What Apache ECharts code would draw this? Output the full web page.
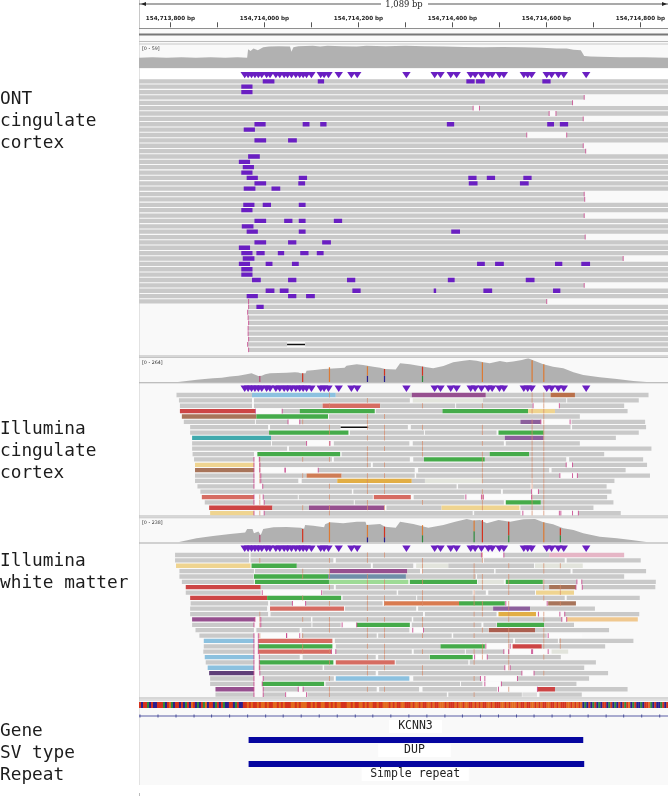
<!DOCTYPE html>
<html><head><meta charset="utf-8">
<style>html,body{margin:0;padding:0;background:#fff}#c{width:668px;height:796px}</style>
<script src="https://cdn.jsdelivr.net/npm/echarts@6/dist/echarts.min.js"></script>
</head><body><div id="c"></div>
<script>
// Positions are bp after 154,713,000.
const CHROM_BASE = 154713000;
const VIEW_START = 733, VIEW_END = 1819;
const RULER_TICKS = [800,900,1000,1100,1200,1300,1400,1500,1600,1700,1800];
const RULER_LABELS = [800,1000,1200,1400,1600,1800];

const ontCoverage = [[733,27],[760,28],[790,27],[820,28],[850,27],[880,28],[910,27],[935,28],[955,27],[957,48],[962,44],[968,50],[977,46],[988,53],[1000,55],[1020,56],[1043,55],[1046,42],[1050,53],[1060,56],[1090,57],[1105,55],[1120,57],[1150,56],[1180,55],[1200,57],[1240,56],[1280,57],[1320,56],[1360,55],[1400,54],[1440,53],[1480,54],[1520,53],[1560,52],[1590,50],[1611,50],[1625,47],[1640,46],[1647,31],[1660,30],[1679,29],[1720,28],[1770,28],[1819,27]];
const illOneCoverage = [[813,0],[852,26],[868,33],[885,41],[903,48],[920,60],[937,71],[954,86],[964,97],[966,78],[978,67],[985,70],[992,86],[1002,97],[1019,100],[1036,104],[1053,108],[1060,106],[1065,97],[1075,98],[1077,126],[1094,134],[1111,145],[1122,147],[1124,164],[1139,153],[1155,158],[1159,182],[1180,197],[1193,190],[1214,171],[1228,160],[1238,145],[1260,138],[1269,208],[1289,197],[1310,179],[1324,164],[1337,153],[1358,179],[1378,219],[1399,238],[1412,246],[1426,238],[1440,219],[1453,208],[1474,234],[1488,219],[1501,227],[1519,246],[1532,264],[1542,242],[1563,197],[1583,171],[1604,153],[1625,108],[1645,78],[1679,52],[1714,33],[1748,11],[1775,0],[1819,0]];
const illTwoCoverage = [[813,0],[851,40],[885,63],[920,83],[951,96],[955,132],[966,132],[969,89],[978,106],[983,73],[988,132],[1009,149],[1036,152],[1065,145],[1067,132],[1072,134],[1074,172],[1091,165],[1113,149],[1115,178],[1125,198],[1152,188],[1180,205],[1198,205],[1200,172],[1228,182],[1238,155],[1260,145],[1269,205],[1296,182],[1327,145],[1358,172],[1382,205],[1406,231],[1419,215],[1433,221],[1447,188],[1471,221],[1495,205],[1522,228],[1546,231],[1563,198],[1583,178],[1604,139],[1625,122],[1645,89],[1679,56],[1714,40],[1748,20],[1778,0],[1819,0]];

// [position, from depth, to depth, base]
const illOneSnv = [[981,0,67,'M'],[1069,0,97,'T'],[1124,0,164,'O'],[1202,0,70,'C'],[1202,70,175,'O'],[1237,0,70,'C'],[1237,70,145,'T'],[1315,0,70,'A'],[1315,70,171,'T'],[1438,0,219,'O'],[1540,0,242,'O'],[1564,0,197,'O']];
const illTwoSnv = [[981,0,73,'M'],[1069,0,132,'T'],[1124,0,198,'O'],[1202,0,50,'C'],[1202,50,172,'O'],[1237,0,50,'C'],[1237,50,155,'T'],[1315,0,70,'A'],[1315,70,170,'O'],[1421,0,110,'A'],[1421,110,215,'O'],[1438,0,221,'T'],[1492,0,70,'A'],[1492,70,205,'T'],[1564,0,198,'O'],[1598,0,70,'A'],[1598,70,139,'T']];

const variantSites = [950,957,964,971,978,985,995,1002,1014,1022,1031,1038,1046,1055,1063,1070,1077,1087,1106,1113,1122,1143,1169,1181,1282,1340,1352,1373,1385,1414,1423,1436,1450,1458,1473,1482,1523,1531,1539,1570,1580,1594,1605,1651];

const ontStarts = [733,733,733,733,733,733,733,733,733,733,733,733,733,733,733,733,733,733,733,733,733,733,733,733,733,733,733,733,733,733,733,733,733,733,733,733,733,733,733,733,733,733,958,956,957,958,957,957,958,956,958];
const ontEnds = [1819,1819,1819,1647,1623,1819,1819,1645,1819,1819,1819,1819,1645,1650,1819,1819,1819,1819,1819,1819,1819,1647,1648,1819,1819,1647,1819,1819,1819,1649,1819,1819,1819,1727,1819,1819,1819,1819,1647,1819,1819,1570,1819,1819,1819,1819,1819,1819,1819,1819,1819];
const ontGaps = [[5,1419,1432],[6,1575,1589],[10,1529,1611]];
const ontDeletions = [[49,1037,1074]];
// [row, start, end]
const ontInserts = [[0,987,1011],[0,1100,1113],[0,1405,1422],[0,1425,1443],[0,1561,1578],[1,943,966],[2,943,966],[8,970,993],[8,1069,1083],[8,1105,1118],[8,1365,1380],[8,1571,1585],[8,1597,1614],[9,948,971],[11,970,994],[11,1039,1057],[14,957,981],[15,938,961],[16,946,969],[17,943,966],[18,954,977],[18,1061,1078],[18,1409,1426],[18,1447,1464],[18,1522,1539],[19,970,994],[19,1060,1074],[19,1410,1428],[19,1515,1533],[20,948,972],[20,1005,1023],[23,947,970],[23,987,1004],[23,1061,1075],[24,943,966],[26,970,994],[26,1031,1048],[26,1061,1075],[26,1133,1150],[27,944,968],[28,954,977],[28,1061,1075],[28,1374,1392],[30,970,994],[30,1039,1056],[30,1109,1127],[31,938,961],[32,943,966],[32,974,991],[32,1018,1031],[32,1064,1081],[32,1098,1112],[33,946,970],[34,938,961],[34,993,1007],[34,1047,1061],[34,1427,1443],[34,1464,1482],[34,1587,1602],[34,1641,1659],[35,943,966],[36,943,966],[37,965,983],[37,1039,1056],[37,1160,1177],[37,1367,1381],[37,1527,1545],[39,993,1011],[39,1022,1040],[39,1171,1188],[39,1338,1343],[39,1440,1458],[39,1583,1598],[40,954,977],[40,1039,1056],[40,1076,1094],[42,974,989]];

const illOneRows = [
[[810,965,'g'],[965,1137,'lb'],[1137,1293,'g'],[1293,1445,'pu'],[1445,1578,'g'],[1578,1628,'ob'],[1628,1779,'g']],
[[815,965,'g'],[969,1289,'g'],[1295,1439,'pl'],[1439,1610,'g'],[1612,1759,'g']],
[[817,965,'g'],[969,1110,'g'],[1110,1228,'sa'],[1228,1382,'g'],[1384,1541,'g'],[1542,1596,'w'],[1597,1729,'g']],
[[817,972,'re'],[972,1027,'w'],[1027,1063,'g'],[1063,1217,'gr'],[1219,1356,'g'],[1356,1532,'gr'],[1532,1587,'py'],[1587,1736,'g']],
[[821,974,'br'],[974,1121,'gr'],[1123,1638,'g']],
[[825,971,'g'],[973,1039,'g'],[1039,1063,'w'],[1063,1516,'g'],[1516,1558,'la'],[1558,1618,'w'],[1621,1772,'g']],
[[838,998,'g'],[1002,1147,'g'],[1147,1204,'k'],[1204,1285,'g'],[1291,1619,'g'],[1622,1774,'g']],
[[838,1000,'g'],[1000,1163,'gr'],[1166,1318,'g'],[1320,1467,'g'],[1471,1564,'gr'],[1564,1759,'g']],
[[842,1004,'te'],[1004,1484,'g'],[1484,1564,'la'],[1564,1712,'g']],
[[842,1004,'g'],[1006,1077,'g'],[1077,1125,'w'],[1133,1288,'g'],[1295,1482,'g'],[1486,1638,'g']],
[[842,1037,'g'],[1041,1785,'g']],
[[843,969,'g'],[976,1146,'gr'],[1149,1453,'g'],[1453,1534,'gr'],[1534,1688,'g']],
[[846,969,'g'],[980,1129,'g'],[1133,1289,'g'],[1296,1318,'g'],[1318,1443,'gr'],[1443,1610,'g'],[1616,1768,'g']],
[[848,969,'py'],[981,1209,'g'],[1213,1610,'g'],[1623,1776,'g']],
[[848,969,'br'],[981,1033,'w'],[1033,1101,'w'],[1101,1299,'g'],[1306,1575,'g'],[1580,1732,'g']],
[[848,969,'g'],[983,1077,'g'],[1077,1149,'sb'],[1149,1299,'g'],[1302,1597,'g'],[1597,1623,'w'],[1633,1782,'g']],
[[848,969,'g'],[983,1060,'g'],[1067,1140,'g'],[1140,1293,'go'],[1293,1320,'g'],[1320,1438,'pl'],[1438,1539,'g'],[1541,1709,'g']],
[[853,969,'g'],[987,1385,'g'],[1388,1537,'g'],[1542,1693,'g']],
[[859,1170,'g'],[1173,1476,'g'],[1480,1539,'g'],[1553,1703,'g']],
[[862,969,'sa'],[988,1059,'g'],[1061,1213,'g'],[1215,1291,'sa'],[1297,1401,'g'],[1404,1436,'w'],[1440,1539,'w'],[1541,1694,'g']],
[[868,969,'g'],[990,1174,'g'],[1176,1482,'g'],[1486,1558,'gr'],[1558,1707,'g']],
[[877,1007,'re'],[1007,1082,'g'],[1082,1236,'pu'],[1241,1354,'g'],[1354,1514,'py'],[1516,1666,'g']],
[[879,969,'py'],[990,1418,'g'],[1421,1516,'g'],[1521,1596,'w'],[1599,1623,'w'],[1635,1722,'g']]
];

const illTwoRows = [
[[807,959,'g'],[962,1436,'g'],[1436,1482,'w'],[1482,1575,'g'],[1575,1729,'pk']],
[[807,959,'g'],[962,1132,'g'],[1137,1438,'g'],[1441,1607,'g'],[1611,1763,'g']],
[[809,962,'py'],[964,1057,'gr'],[1057,1209,'g'],[1213,1296,'g'],[1302,1368,'pl'],[1368,1544,'g'],[1546,1644,'pl']],
[[816,969,'g'],[971,1125,'g'],[1125,1284,'pu'],[1284,1310,'g'],[1315,1462,'g'],[1465,1619,'g'],[1623,1774,'g']],
[[816,968,'g'],[969,1121,'gr'],[1121,1281,'st'],[1281,1425,'g'],[1427,1729,'g']],
[[821,969,'g'],[971,1123,'gr'],[1123,1286,'lg'],[1289,1427,'gr'],[1429,1482,'pl'],[1486,1562,'gr'],[1563,1632,'g'],[1642,1794,'g']],
[[829,983,'re'],[983,1133,'g'],[1137,1575,'g'],[1575,1630,'br'],[1643,1793,'g']],
[[829,983,'g'],[986,1108,'w'],[1110,1262,'g'],[1265,1418,'g'],[1423,1445,'g'],[1450,1546,'g'],[1548,1626,'py']],
[[838,996,'re'],[996,1148,'gr'],[1151,1302,'g'],[1304,1607,'g'],[1611,1761,'g']],
[[839,998,'g'],[1002,1048,'g'],[1048,1075,'w'],[1075,1233,'g'],[1236,1390,'or'],[1390,1484,'gr'],[1486,1571,'w'],[1573,1630,'br']],
[[838,996,'g'],[1002,1154,'sa'],[1156,1302,'g'],[1306,1460,'g'],[1460,1536,'la'],[1536,1669,'g']],
[[838,998,'g'],[1003,1316,'g'],[1320,1467,'g'],[1471,1548,'go'],[1553,1597,'w'],[1607,1760,'g']],
[[842,971,'pu'],[983,1086,'g'],[1089,1293,'g'],[1296,1601,'g'],[1611,1757,'po']],
[[842,969,'g'],[983,1087,'g'],[1089,1147,'g'],[1150,1180,'w'],[1180,1289,'gr'],[1293,1436,'g'],[1440,1467,'g'],[1468,1565,'gr'],[1565,1626,'g']],
[[849,969,'g'],[974,1063,'g'],[1067,1288,'g'],[1295,1317,'w'],[1317,1450,'g'],[1451,1546,'rb'],[1546,1698,'g']],
[[857,969,'g'],[978,1036,'w'],[1036,1063,'w'],[1067,1221,'g'],[1224,1375,'g'],[1378,1570,'g'],[1573,1642,'w']],
[[866,969,'lb'],[978,1130,'sa'],[1135,1501,'g'],[1505,1593,'g'],[1595,1748,'g']],
[[866,969,'g'],[978,1130,'gr'],[1137,1352,'g'],[1352,1443,'gr'],[1445,1495,'w'],[1500,1560,'re'],[1560,1690,'g']],
[[865,969,'g'],[978,1128,'sa'],[1137,1293,'g'],[1297,1402,'g'],[1404,1482,'g'],[1492,1539,'w'],[1541,1573,'w'],[1580,1614,'pl']],
[[868,969,'lb'],[980,1063,'g'],[1069,1219,'g'],[1224,1329,'g'],[1330,1418,'gr'],[1422,1448,'w'],[1448,1599,'g']],
[[870,969,'g'],[980,1132,'gr'],[1137,1258,'sa'],[1260,1409,'g'],[1412,1671,'g']],
[[874,969,'lb'],[980,1110,'g'],[1113,1484,'g'],[1495,1647,'g']],
[[877,969,'dp'],[981,1219,'g'],[1224,1519,'g'],[1519,1544,'w'],[1544,1696,'g']],
[[879,969,'g'],[988,1133,'g'],[1137,1288,'lb'],[1296,1434,'g'],[1443,1510,'w'],[1510,1657,'g']],
[[879,969,'g'],[986,1113,'gr'],[1116,1392,'g'],[1394,1438,'g'],[1443,1477,'w'],[1477,1631,'g']],
[[890,969,'pu'],[988,1060,'g'],[1070,1221,'g'],[1226,1308,'g'],[1315,1468,'g'],[1471,1551,'w'],[1551,1587,'re'],[1587,1736,'g']],
[[890,969,'g'],[988,1033,'g'],[1034,1077,'w'],[1079,1365,'g'],[1368,1519,'g'],[1520,1550,'lc'],[1555,1642,'g']]
];

// Mismatch position -> rows it is seen on
const illOneMismatch = [[981,[12,13,14,15,16,19,20,22]],[1069,[5,12,15,21]],[1124,[0,2,6,7,9,12,17,19,21,22]],[1202,[1,4,5,6,8,10,11,12,13,15,16,17,18,20,21]],[1237,[4,6,7,8,10,13,15,17,18,21]],[1315,[2,6,9,10,11,20]],[1438,[2,6,7,9,11,12,13,14,15,16,18,19,20,21]],[1540,[0,1,3,5,6,7,8,9,10,11,12,13,14,15,16,17,19,20,21,22]],[1564,[0,1,2,3,4,5,6,7,8,9,10,11,12,13,14,15,16,17,18,19,20,21,22]]];
const illTwoMismatch = [[981,[1,11,12,13,15,21]],[1069,[3,4,8,12,15,17,18]],[1124,[1,3,4,6,9,12,13,14,18,20,23,25,26]],[1202,[0,1,4,5,6,8,9,10,12,14,15,17,19,21,22,25]],[1237,[0,5,6,8,9,12,14,15,17,18,19,21,25]],[1315,[1,2,3,5,7,8,9,12,13,15,18,21,22]],[1421,[2,3,4,7,8,9,11,13,15,18,20,23,26]],[1438,[0,1,4,5,6,9,10,11,14,17,18,19]],[1492,[2,4,5,6,7,9,10,11,12,14,15,16,17,18,19,20,21,25]],[1564,[2,3,5,6,8,11,12,14,15,16,17,19,22]],[1598,[2,6,7,9,16,17]]];

const refBases = 'TCTTACTCCTTTACTGACTTCTCATCGTCACTAGCTTCATCTACCTTCATCCTT'+
 'GTGTTGTGGTGTTGGTGTGTTTGGTGTGGGTTGTGTTGGTTGTGTGGTTTGGTGTTGGTGTGGTTGTTGGGTGTGTTGGTTTGTGGTGTTGGTGTTGGGTGTTTGTGGTGGTTGTGTGTTGGTGTTTGGTGTGGGTGTTGTTGGTGTGTTGGTTGTGTTTGGTGTG'+
 'TGCACTCATCACTTCATCACTCTATGCATCCACTTGACTCCATCTAGC';
const BASE_SPAN = 4.1;

const geneTicks = [735,772,809,846,882,919,956,993,1029,1066,1103,1140,1177,1213,1250,1287,1324,1361,1397,1434,1471,1508,1544,1581,1618,1655,1692,1728,1765,1802];
const annTracks = ['Gene','SV type','Repeat'];
const annFeatures = [['SV type',958,1645],['Repeat',958,1647]];
const annLabels = [['KCNN3','Gene',1246,1355],['DUP','SV type',1224,1373],['Simple repeat','Repeat',1190,1410]];

const READ_COLORS = {g:'#c9c9c9',lb:'#8cc1df',pu:'#96508f',ob:'#b9704a',pl:'#e2e4dc',sa:'#d66c62',w:'#fbfbfb',re:'#cd4545',gr:'#45ab4a',py:'#efd490',br:'#a8745a',la:'#8c5f9c',k:'#fafafa',te:'#40a9ad',go:'#e2ae45',sb:'#cf7c55',st:'#6f8ea8',lg:'#9edb96',pk:'#e6b6c6',or:'#d97b50',rb:'#ab5f50',po:'#f0c88f',dp:'#5f3f78',lc:'#dcdcdc'};
const BASE_COLORS = {A:'#2f8a3c',C:'#2a1f8e',G:'#e26a1e',T:'#d4321e',O:'#dc7a34',M:'#b84a78'};
const PURPLE = '#6a1fc2', CAP = '#c8448c', COV = '#b1b1b1', NAVY = '#0606a0';

// ---- layout
const ROW = 5.37;
const LEFT = 139;
function readGrid(row0Y, rows){ return {left:LEFT,right:0,top:row0Y-2.5*ROW,height:(rows+2)*ROW}; }
const grids = [
  {left:LEFT,right:0,top:8,height:19.3},            // 0 ruler
  {left:LEFT,right:0,top:45,height:23.3},           // 1 ONT coverage
  readGrid(81.3,51),                                // 2 ONT reads
  {left:LEFT,right:0,top:358.3,height:23.7},        // 3 Ill cov
  readGrid(395,23),                                 // 4
  {left:LEFT,right:0,top:518.3,height:24},          // 5
  readGrid(555,27),                                 // 6
  {left:LEFT,right:0,top:702,height:6},             // 7 sequence
  {left:LEFT,right:0,top:704,height:72}             // 8 annotation
];
const xAxes = grids.map((g,i)=>({type:'value',gridIndex:i,min:VIEW_START,max:VIEW_END,show:false}));
xAxes[0] = {type:'value',gridIndex:0,min:VIEW_START,max:VIEW_END,position:'bottom',
  axisLine:{show:false},splitLine:{show:false},
  axisTick:{show:true,inside:true,length:5,customValues:RULER_TICKS,lineStyle:{color:'#555',width:1}},
  axisLabel:{show:true,inside:true,margin:6,customValues:RULER_LABELS,hideOverlap:false,showMinLabel:true,showMaxLabel:true,
    color:'#222',fontFamily:'DejaVu Sans',fontWeight:'bold',fontSize:5.6,
    formatter:v=>(CHROM_BASE+v).toLocaleString('en-US')+' bp'}};
const yRange = [[0,1],[0,59],[-2.5,50.5],[0,264],[-2.5,22.5],[0,238],[-2.5,26.5],[0,1]];
const yAxes = yRange.map((r,i)=>({type:'value',gridIndex:i,min:r[0],max:r[1],show:false,inverse:i%2===0&&i>0&&i<7}));
yAxes.push({type:'category',gridIndex:8,data:annTracks,inverse:true,show:false});

// ---- derived series data
function rect(x,y,w,h,fill){ return {type:'rect',shape:{x,y,width:w,height:h},style:{fill}}; }
function flattenRows(rows){
  const out=[];
  rows.forEach((segs,r)=>segs.forEach(s=>out.push([r,s[0],s[1],s[2]])));
  return out;
}
function capsFromRows(rows){
  const out=[];
  rows.forEach((segs,r)=>segs.forEach((s,i)=>{
    const n=segs[i+1], p=segs[i-1];
    if(n&&(n[0]-s[1]>8||s[2]==='w')) out.push([r,s[1]]);
    if(p&&(s[0]-p[1]>8||s[2]==='w')) out.push([r,s[0]]);
  }));
  return out;
}
function expandMismatch(list){ const o=[]; list.forEach(m=>m[1].forEach(r=>o.push([r,m[0]]))); return o; }
const ontRows = ontStarts.map((st,r)=>{
  const gaps = ontGaps.filter(g=>g[0]===r);
  const dels = ontDeletions.filter(g=>g[0]===r);
  let cur=st; const segs=[];
  gaps.forEach(g=>{ segs.push([cur,g[1],'g']); cur=g[2]; });
  dels.forEach(g=>{ segs.push([cur,g[1],'g']); segs.push([g[1],g[2],'k']); cur=g[2]; });
  segs.push([cur,ontEnds[r],'g']);
  return segs;
});
const ontCaps = capsFromRows(ontRows);
ontStarts.forEach((st,r)=>{ if(st>VIEW_START) ontCaps.push([r,st]); });
ontEnds.forEach((e,r)=>{ if(e<VIEW_END) ontCaps.push([r,e]); });
ontCaps.push([41,958]);

// ---- render functions
function renderRead(p,api){
  const y=api.value(0),a=api.coord([api.value(1),y]),b=api.coord([api.value(2),y]);
  const h=api.size([0,1])[1]*0.8, code=api.value(3);
  if(code==='k'){ return {type:'group',children:[
    rect(a[0],a[1]-h/2,b[0]-a[0],h,'#fafafa'), rect(a[0],a[1]-0.6,b[0]-a[0],1.3,'#111')]}; }
  return rect(a[0],a[1]-h/2,b[0]-a[0],h,READ_COLORS[code]);
}
function renderInsert(p,api){
  const y=api.value(0),a=api.coord([api.value(1),y]),b=api.coord([api.value(2),y]);
  const h=api.size([0,1])[1]*0.8;
  return rect(a[0],a[1]-h/2,b[0]-a[0],h,PURPLE);
}
function renderTick(color,opacity){ return function(p,api){
  const y=api.value(0),a=api.coord([api.value(1),y]);
  const h=api.size([0,1])[1]*0.9;
  const r=rect(a[0]-0.5,a[1]-h/2,1,h,color); r.style.opacity=opacity; return r;
};}
function snvRenderer(list){ return function(p,api){
  const d=list[p.dataIndex];
  const a=api.coord([d[0],d[1]]),b=api.coord([d[0],d[2]]);
  return rect(a[0]-0.6,b[1],1.2,a[1]-b[1],BASE_COLORS[d[3]]);
};}
function renderBase(p,api){
  const s=api.value(0),a=api.coord([s,0]),b=api.coord([s+BASE_SPAN,1]);
  return rect(a[0],b[1],b[0]-a[0]+0.3,a[1]-b[1],BASE_COLORS[refBases[p.dataIndex]]);
}
function coverageSeries(i,data){ return {type:'line',z:2,xAxisIndex:i,yAxisIndex:i,data,symbol:'none',silent:true,
  lineStyle:{width:0},itemStyle:{color:COV},areaStyle:{color:COV,opacity:1}}; }
function custom(i,render,data,dims){ return {type:'custom',xAxisIndex:i,yAxisIndex:i,renderItem:render,data,clip:true,silent:true,encode:{x:1,y:0},dimensions:dims}; }
function triangles(i){ return {type:'scatter',z:4,xAxisIndex:i,yAxisIndex:i,data:variantSites.map(v=>[v,-1.15]),symbol:'triangle',symbolRotate:180,symbolSize:[8.4,6.4],itemStyle:{color:PURPLE,opacity:1},silent:true}; }
const snvCustom = (i,d)=>({type:'custom',z:6,xAxisIndex:i,yAxisIndex:i,renderItem:snvRenderer(d),data:d.map(s=>[s[0],s[1],s[2]]),silent:true,encode:{x:0,y:2},dimensions:['x','a','b']});
const readDims=['r','s','e',{name:'c',type:'ordinal'}];

const series = [
  coverageSeries(1,ontCoverage),
  custom(2,renderRead,flattenRows(ontRows),readDims),
  custom(2,renderTick(CAP,0.8),ontCaps,['r','x']),
  custom(2,renderInsert,ontInserts,['r','s','e']),
  triangles(2),
  coverageSeries(3,illOneCoverage),
  snvCustom(3,illOneSnv),
  custom(4,renderRead,flattenRows(illOneRows),readDims),
  custom(4,renderTick('#d58a6a',0.7),expandMismatch(illOneMismatch),['r','x']),
  custom(4,renderTick(CAP,0.85),capsFromRows(illOneRows),['r','x']),
  triangles(4),
  coverageSeries(5,illTwoCoverage),
  snvCustom(5,illTwoSnv),
  custom(6,renderRead,flattenRows(illTwoRows),readDims),
  custom(6,renderTick('#d58a6a',0.7),expandMismatch(illTwoMismatch),['r','x']),
  custom(6,renderTick(CAP,0.85),capsFromRows(illTwoRows),['r','x']),
  triangles(6),
  {type:'custom',xAxisIndex:7,yAxisIndex:7,clip:true,silent:true,renderItem:renderBase,encode:{x:0,y:1},
   dimensions:['x','y'],
   data:refBases.split('').map((b,i)=>[VIEW_START+i*BASE_SPAN,0.5])},
  // gene line + intron ticks
  {type:'custom',xAxisIndex:8,yAxisIndex:8,silent:true,clip:true,encode:{x:0},dimensions:['x'],data:geneTicks.map(t=>[t]),
   renderItem:(p,api)=>{
     const c=api.coord([api.value(0),annTracks[0]]);
     const kids=[rect(c[0]-0.5,c[1]-1.5,1,3,'#4a4f9a')];
     if(p.dataIndex===0){ const a=api.coord([VIEW_START,annTracks[0]]),b=api.coord([VIEW_END,annTracks[0]]);
       kids.push(rect(a[0],a[1]-0.5,b[0]-a[0],1,'#5a5fa5')); }
     return {type:'group',children:kids};
   }},
  {type:'custom',xAxisIndex:8,yAxisIndex:8,silent:true,encode:{x:[1,2],y:0},dimensions:[{name:'t',type:'ordinal'},'s','e'],data:annFeatures,
   renderItem:(p,api)=>{
     const d=annFeatures[p.dataIndex];
     const a=api.coord([d[1],d[0]]),b=api.coord([d[2],d[0]]);
     return rect(a[0],a[1]-2.9,b[0]-a[0],5.8,NAVY);
   }},
  {type:'custom',xAxisIndex:8,yAxisIndex:8,silent:true,z:5,encode:{x:[2,3],y:1},
   dimensions:[{name:'n',type:'ordinal'},{name:'t',type:'ordinal'},'s','e'],data:annLabels,
   renderItem:(p,api)=>{
     const d=annLabels[p.dataIndex];
     const a=api.coord([d[2],d[1]]),b=api.coord([d[3],d[1]]);
     return {type:'group',children:[
       rect(a[0],a[1]+4,b[0]-a[0],13,'#ffffff'),
       {type:'text',style:{text:d[0],x:(a[0]+b[0])/2,y:a[1]+10.5,align:'center',verticalAlign:'middle',fill:'#222',font:'11.5px "DejaVu Sans Mono"'}}
     ]};
   }}
];

// ---- page furniture
function hline(y,h,c){ return {type:'rect',shape:{x:LEFT,y,width:529,height:h},style:{fill:c},silent:true,z:1}; }
function leftText(t,y){ return {type:'text',style:{text:t,x:0,y,fill:'#1c1c1c',font:'17.8px "DejaVu Sans Mono"',verticalAlign:'middle'},silent:true,z:10}; }
const graphic = [
  {type:'rect',shape:{x:LEFT,y:28,width:529,height:757},style:{fill:'#f9f9f9'},silent:true,z:0},
  {type:'rect',shape:{x:LEFT,y:69,width:529,height:10},style:{fill:'#ffffff'},silent:true,z:0},
  {type:'rect',shape:{x:LEFT,y:0,width:1,height:28},style:{fill:'#c8c8c8'},silent:true,z:1},
  {type:'rect',shape:{x:LEFT,y:28,width:1,height:757},style:{fill:'#e2e2e2'},silent:true,z:1},
  {type:'rect',shape:{x:LEFT,y:793,width:1,height:3},style:{fill:'#bbb'},silent:true,z:1},
  hline(28,1,'#8f8f8f'),hline(33.6,2,'#777'),hline(41,1,'#bdbdbd'),hline(43.6,1,'#c9c9c9'),
  hline(355.4,1,'#b5b5b5'),hline(357,1,'#c4c4c4'),
  hline(382.2,1,'#aaaaaa'),hline(515.6,1,'#b5b5b5'),hline(517.2,1,'#c4c4c4'),
  hline(542.4,1,'#aaaaaa'),hline(697.6,1,'#b5b5b5'),hline(699.4,1,'#c4c4c4'),
  {type:'rect',shape:{x:LEFT,y:3.6,width:242,height:1},style:{fill:'#555'},silent:true,z:1},
  {type:'rect',shape:{x:428,y:3.6,width:240,height:1},style:{fill:'#555'},silent:true,z:1},
  {type:'polygon',shape:{points:[[141,4],[146,2],[146,6]]},style:{fill:'#222'},silent:true,z:2},
  {type:'polygon',shape:{points:[[667,4],[662,2],[662,6]]},style:{fill:'#222'},silent:true,z:2},
  {type:'text',style:{text:'1,089 bp',x:404,y:4.5,align:'center',verticalAlign:'middle',fill:'#222',font:'8.4px "DejaVu Serif"'},silent:true,z:10},
  {type:'text',style:{text:'[0 - 59]',x:142,y:48.5,verticalAlign:'middle',fill:'#333',font:'4.8px "DejaVu Sans"'},silent:true,z:10},
  {type:'text',style:{text:'[0 - 264]',x:142,y:362.5,verticalAlign:'middle',fill:'#333',font:'4.8px "DejaVu Sans"'},silent:true,z:10},
  {type:'text',style:{text:'[0 - 238]',x:142,y:522.5,verticalAlign:'middle',fill:'#333',font:'4.8px "DejaVu Sans"'},silent:true,z:10},
  leftText('ONT',99),leftText('cingulate',121),leftText('cortex',143),
  leftText('Illumina',429),leftText('cingulate',451),leftText('cortex',473),
  leftText('Illumina',561),leftText('white matter',583),
  leftText('Gene',731),leftText('SV type',753),leftText('Repeat',775)
];

const chart = echarts.init(document.getElementById('c'),null,{renderer:'canvas',width:668,height:796});
chart.setOption({animation:false,backgroundColor:'#ffffff',tooltip:{show:false},legend:{show:false},
  grid:grids,xAxis:xAxes,yAxis:yAxes,series,graphic:{elements:graphic}});
</script></body></html>
